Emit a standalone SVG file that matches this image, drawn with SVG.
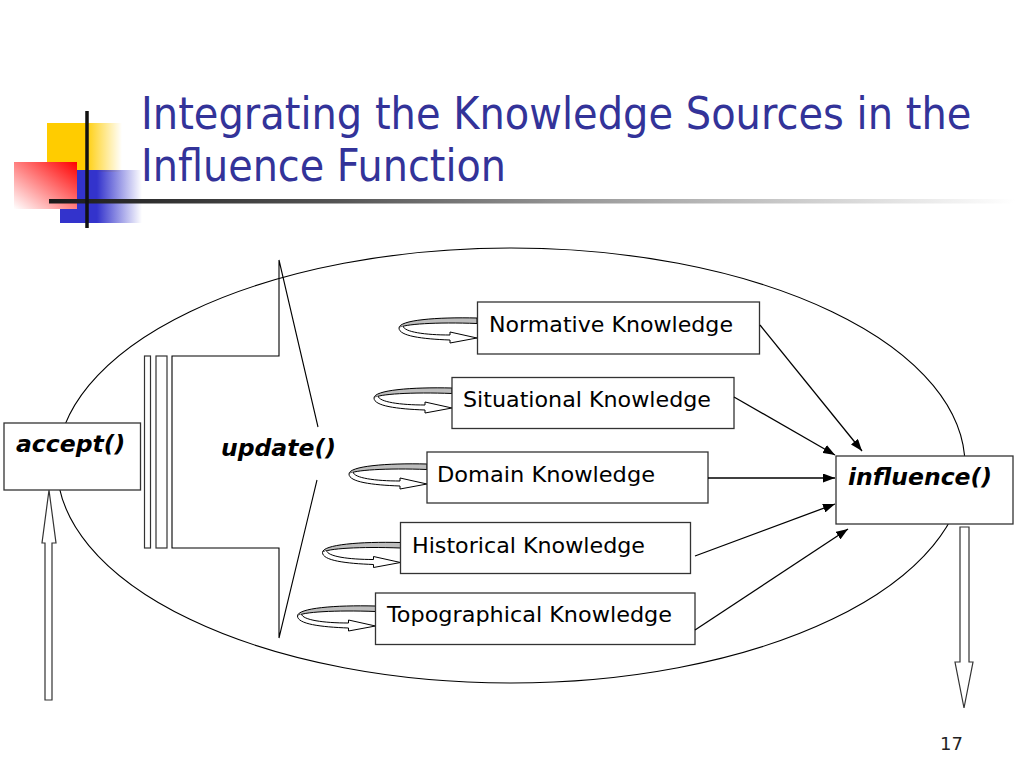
<svg xmlns="http://www.w3.org/2000/svg" xmlns:xlink="http://www.w3.org/1999/xlink" width="1024" height="768" viewBox="0 0 1024 768">
<style>
.box{fill:#fff;stroke:#333;stroke-width:1.3}
.lbl{font-family:"DejaVu Sans",Verdana,sans-serif;font-size:22px;fill:#000}
.fn{font-family:"DejaVu Sans",Verdana,sans-serif;font-size:23.5px;font-weight:bold;font-style:italic;fill:#000}
.title{font-family:"DejaVu Sans",Tahoma,sans-serif;font-size:44px;fill:#333399}
.conn{fill:none;stroke:#000;stroke-width:1.3;marker-end:url(#ah)}
.hollow{fill:#fff;stroke:#333;stroke-width:1.2}
.thin{fill:none;stroke:#000;stroke-width:1.1}
</style>
<defs>
<marker id="ah" markerUnits="userSpaceOnUse" markerWidth="12" markerHeight="9" viewBox="0 0 12 9" refX="12" refY="4.5" orient="auto">
<path d="M0,0 L12,4.5 L0,9 Z" fill="#000"/>
</marker>
<linearGradient id="gy" x1="0" y1="0" x2="1" y2="0">
<stop offset="0" stop-color="#FFCC00"/><stop offset="0.5" stop-color="#FFCC00"/><stop offset="1" stop-color="#FFCC00" stop-opacity="0"/>
</linearGradient>
<linearGradient id="gb" x1="0" y1="0" x2="1" y2="0">
<stop offset="0" stop-color="#3333CC"/><stop offset="0.45" stop-color="#3333CC"/><stop offset="1" stop-color="#3333CC" stop-opacity="0"/>
</linearGradient>
<linearGradient id="gr" x1="1" y1="0" x2="0" y2="1">
<stop offset="0" stop-color="#FF0000"/><stop offset="1" stop-color="#FFFFFF"/>
</linearGradient>
<linearGradient id="gl" x1="0" y1="0" x2="1" y2="0">
<stop offset="0" stop-color="#1a1a1a"/><stop offset="0.3" stop-color="#555"/><stop offset="0.55" stop-color="#999"/><stop offset="0.85" stop-color="#ddd"/><stop offset="1" stop-color="#fff"/>
</linearGradient>
<g id="curl">
<path d="M0,0 C-40,-1 -78,2 -78,10 C-74,6 -40,4 0,5.5 Z" fill="#bdbdbd" stroke="#000" stroke-width="1"/>
<path d="M-78,10 C-78,18 -55,21 -27,22 L-27,25 L0,20 L-27,14 L-27,17 C-52,17 -73,14 -74,8" fill="#fff" stroke="#000" stroke-width="1"/>
</g>
</defs>
<rect width="1024" height="768" fill="#fff"/>
<g id="decor">
<rect x="47" y="123" width="75" height="49" fill="url(#gy)"/>
<rect x="60" y="170" width="82" height="53" fill="url(#gb)"/>
<rect x="14" y="162" width="63" height="47" fill="url(#gr)"/>
<rect x="49" y="199" width="966" height="4.5" fill="url(#gl)"/>
<line x1="87" y1="111" x2="87" y2="228" stroke="#111" stroke-width="3.5"/>
</g>
<g id="title">
<text class="title" transform="translate(141,129) scale(0.909,1)" x="0" y="0">Integrating the Knowledge Sources in the</text>
<text class="title" transform="translate(141,181) scale(0.904,1)" x="0" y="0">Influence Function</text>
</g>
<g id="boundary">
<ellipse cx="511" cy="465.5" rx="454" ry="217.5" class="thin"/>
</g>
<g id="update">
<rect x="144.5" y="356" width="6" height="192" class="hollow"/>
<rect x="156" y="356" width="11" height="192" class="hollow"/>
<path d="M318,427 L279,260 V356 H172 V548 H279 V638 L317,480" class="thin"/>
<text class="fn" x="221" y="456">update()</text>
</g>
<g id="accept">
<rect x="4" y="423" width="136.5" height="67" class="box"/>
<text class="fn" x="16" y="452">accept()</text>
<path d="M45,700 V543 H42 L49,490 L56,543 H52 V700 Z" class="hollow"/>
</g>
<g id="influence">
<rect x="836" y="456" width="177" height="68" class="box"/>
<text class="fn" x="848" y="485">influence()</text>
<path d="M960,527 H969 V662 H973 L964,708 L955,662 H960 Z" class="hollow"/>
</g>
<g id="normative">
<use xlink:href="#curl" href="#curl" transform="translate(477,318)"/>
<rect x="477.5" y="302" width="282" height="52" class="box"/>
<text class="lbl" x="489" y="332" textLength="244" lengthAdjust="spacingAndGlyphs">Normative Knowledge</text>
</g>
<g id="situational">
<use xlink:href="#curl" href="#curl" transform="translate(452,388)"/>
<rect x="452" y="377.5" width="282" height="51" class="box"/>
<text class="lbl" x="463" y="407" textLength="248" lengthAdjust="spacingAndGlyphs">Situational Knowledge</text>
</g>
<g id="domain">
<use xlink:href="#curl" href="#curl" transform="translate(427,464)"/>
<rect x="427" y="452" width="281" height="51" class="box"/>
<text class="lbl" x="437" y="482" textLength="218" lengthAdjust="spacingAndGlyphs">Domain Knowledge</text>
</g>
<g id="historical">
<use xlink:href="#curl" href="#curl" transform="translate(400.5,542.5)"/>
<rect x="400.5" y="522.5" width="290" height="51" class="box"/>
<text class="lbl" x="412" y="553" textLength="233" lengthAdjust="spacingAndGlyphs">Historical Knowledge</text>
</g>
<g id="topographical">
<use xlink:href="#curl" href="#curl" transform="translate(375.5,606)"/>
<rect x="375.5" y="593" width="319.5" height="51.5" class="box"/>
<text class="lbl" x="387" y="622" textLength="285" lengthAdjust="spacingAndGlyphs">Topographical Knowledge</text>
</g>
<g id="connectors">
<line x1="760" y1="325" x2="862" y2="451" class="conn"/>
<line x1="734" y1="397" x2="835" y2="455" class="conn"/>
<line x1="708" y1="478" x2="835" y2="478" class="conn"/>
<line x1="695" y1="556" x2="835" y2="504" class="conn"/>
<line x1="695" y1="630" x2="848" y2="529" class="conn"/>
</g>
<text x="940" y="750" style="font-family:'DejaVu Sans',Tahoma,sans-serif;font-size:18px;fill:#222">17</text>
</svg>
